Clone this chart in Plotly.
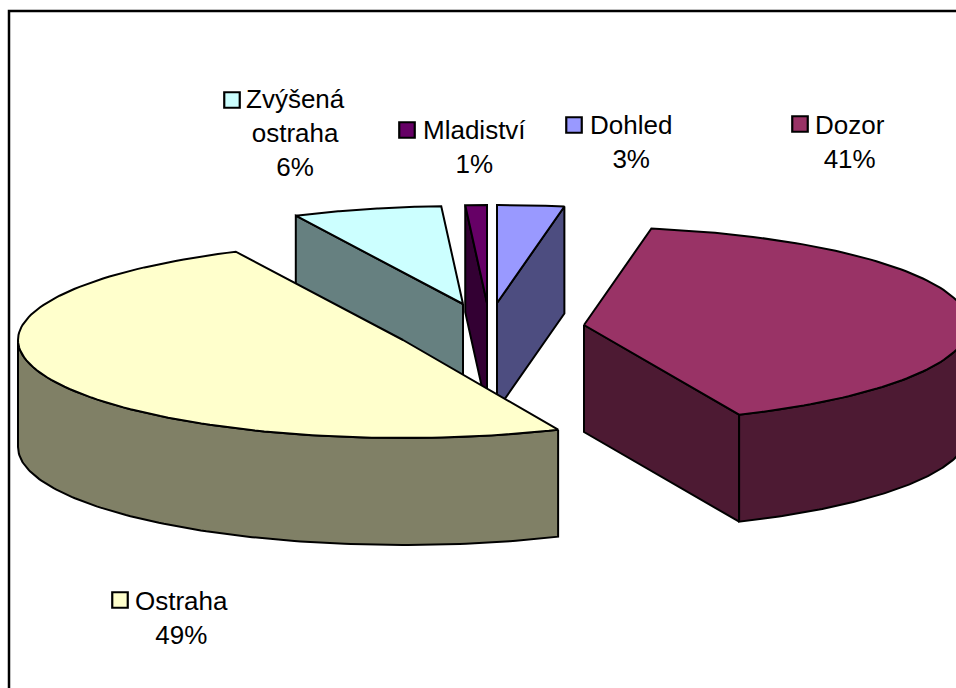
import numpy as np
import plotly.graph_objects as go

# --- data (clockwise from 12 o'clock) ---
categories = ["Dohled", "Dozor", "Ostraha", "Zvýšená<br>ostraha", "Mladiství"]
values = [2.8, 40.6, 49.45, 6.25, 0.9]
top_colors = ["#9999FF", "#993366", "#FFFFCC", "#CCFFFF", "#660066"]
side_colors = ["#4D4D80", "#4D1A33", "#808066", "#668080", "#330033"]

# --- pie geometry (in page pixels) ---
RX, RY, DEPTH = 385, 98, 107
hubs = {"Dohled": (497, 303), "Dozor": (584, 325), "Ostraha": (403, 340),
        "Zvýšená<br>ostraha": (463, 304), "Mladiství": (487, 303)}
label_pos = {"Dohled": (631, 142), "Dozor": (850, 142), "Ostraha": (181, 618),
             "Zvýšená<br>ostraha": (295, 133), "Mladiství": (474, 147)}
key_pos = {"Dohled": (574, 125), "Dozor": (800, 124), "Ostraha": (120, 600),
           "Zvýšená<br>ostraha": (232, 100), "Mladiství": (407, 130)}
draw_order = ["Zvýšená<br>ostraha", "Mladiství", "Dohled", "Ostraha", "Dozor"]
FONT = dict(family="Liberation Sans, Arial, sans-serif", size=26, color="#000000")


def rim(hub, a0, a1, n=120):
    t = np.radians(np.linspace(a0, a1, n))
    return hub[0] + RX * np.sin(t), hub[1] - RY * np.cos(t)


def poly(fig, xs, ys, color):
    fig.add_trace(go.Scatter(
        x=list(xs) + [xs[0]], y=list(ys) + [ys[0]], mode="lines", fill="toself",
        fillcolor=color, line=dict(color="#000000", width=2), hoverinfo="skip",
        showlegend=False))


def radial_wall(fig, hub, a, color):
    rx, ry = rim(hub, a, a, 1)
    poly(fig, [hub[0], rx[0], rx[0], hub[0]],
         [hub[1], ry[0], ry[0] + DEPTH, hub[1] + DEPTH], color)


total = sum(values)
edges = np.concatenate([[0], np.cumsum(values)]) * 360.0 / total
span = {c: (edges[i], edges[i + 1]) for i, c in enumerate(categories)}
top = dict(zip(categories, top_colors))
side = dict(zip(categories, side_colors))

fig = go.Figure()
for c in draw_order:
    a0, a1 = span[c]
    hub = hubs[c]
    # a radial wall shows only when it faces the viewer
    if np.sin(np.radians(a0)) < -1e-6:
        radial_wall(fig, hub, a0, side[c])
    if np.sin(np.radians(a1)) > 1e-6:
        radial_wall(fig, hub, a1, side[c])
    # outer curved wall: only the front half (90..270 deg) shows
    w0, w1 = max(a0, 90), min(a1, 270)
    if w1 > w0:
        rx, ry = rim(hub, w0, w1)
        poly(fig, list(rx) + list(rx[::-1]), list(ry) + list(ry[::-1] + DEPTH), side[c])
    # top face
    rx, ry = rim(hub, a0, a1)
    poly(fig, [hub[0]] + list(rx), [hub[1]] + list(ry), top[c])

# legend keys and labels
for c, v in zip(categories, values):
    kx, ky = key_pos[c]
    fig.add_trace(go.Scatter(
        x=[kx], y=[ky], mode="markers", hoverinfo="skip", showlegend=False,
        marker=dict(symbol="square", size=15.5, color=top[c], line=dict(color="#000000", width=2.2))))
    lx, ly = label_pos[c]
    fig.add_annotation(x=lx, y=ly, text=f"{c}<br>{round(v)}%", showarrow=False,
                       xanchor="center", yanchor="middle", align="center", font=FONT)

fig.add_shape(type="rect", x0=9, y0=11, x1=1000, y1=720, line=dict(color="#000000", width=2.5),
              fillcolor="rgba(0,0,0,0)", layer="above")

fig.update_layout(
    width=956, height=688, margin=dict(l=0, r=0, t=0, b=0, pad=0),
    paper_bgcolor="#FFFFFF", plot_bgcolor="#FFFFFF", showlegend=False,
    xaxis=dict(range=[0, 956], visible=False, fixedrange=True),
    yaxis=dict(range=[688, 0], visible=False, fixedrange=True),
)
fig.write_html("out.html", config={"displayModeBar": False},
               post_script="document.body.style.margin='0';document.body.style.overflow='hidden';")
